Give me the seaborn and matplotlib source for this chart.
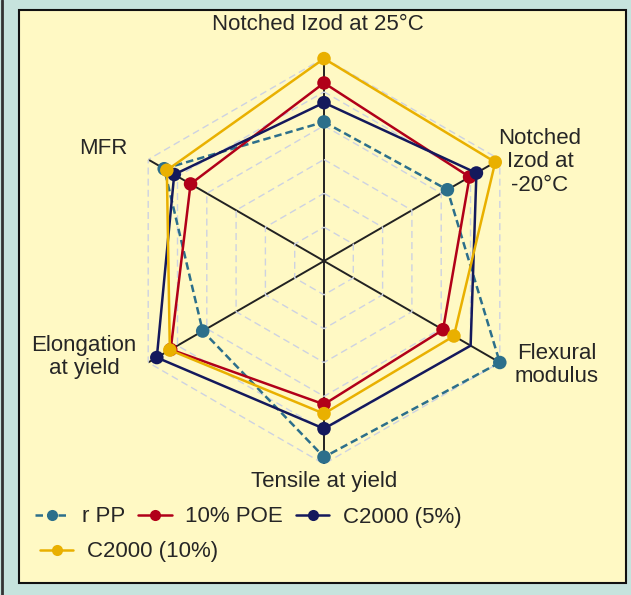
import numpy as np
import pandas as pd
import matplotlib
matplotlib.use("Agg")
import matplotlib.pyplot as plt
from matplotlib.patches import Rectangle
from matplotlib.lines import Line2D
import seaborn as sns

sns.set_style("white")
plt.rcParams['font.family'] = ['Liberation Sans', 'DejaVu Sans']

categories = ["Notched Izod at 25°C", "Notched\nIzod at\n-20°C", "Flexural\nmodulus",
              "Tensile at yield", "Elongation\nat yield", "MFR"]
series_names = ["r PP", "10% POE", "C2000 (5%)", "C2000 (10%)"]
rpp = [0.685, 0.702, 1.000, 0.966, 0.690, 0.909]
poe10 = [0.877, 0.828, 0.677, 0.706, 0.872, 0.759]
c2000_5 = [0.780, 0.867, 0.834, 0.826, 0.951, 0.852]
c2000_10 = [0.997, 0.974, 0.739, 0.752, 0.877, 0.894]
grid_levels = [1/6, 2/6, 3/6, 4/6, 5/6, 1.0]

colors = ["#2c6f8b", "#b10019", "#14195c", "#e9b000"]
styles = [(0, (3, 1.6)), "-", "-", "-"]
values = [rpp, poe10, c2000_5, c2000_10]
# which points carry a marker (the 5% series has none on Flexural modulus)
marker_mask = [[True]*6, [True]*6, [True, True, False, True, True, True], [True]*6]

W, H = 631, 595
fig = plt.figure(figsize=(W/100, H/100), dpi=100)
fig.patch.set_facecolor("#c6e3dd")
fig.add_artist(Rectangle((19/W, 1-583/H), (626-19)/W, (583-10)/H, transform=fig.transFigure,
                         facecolor="#fff9c4", edgecolor="#111111", lw=1.5, zorder=-5))
fig.add_artist(Line2D([1.5/W, 1.5/W], [0, 1], transform=fig.transFigure, color="#333333", lw=2))

cx, cy, R = 324, 261, 203
ax = fig.add_axes([(cx-R)/W, 1-(cy+R)/H, 2*R/W, 2*R/H], projection="polar")
ax.patch.set_visible(False)
ax.set_theta_offset(np.pi/2)
ax.set_theta_direction(-1)

n = len(categories)
angles = np.arange(n) * 2*np.pi/n
ang_closed = np.append(angles, 2*np.pi)

# hexagonal dashed rings
for lv in grid_levels:
    ax.plot(ang_closed, [lv]*(n+1), color="#cdd2e2", lw=1.0, ls=(0, (5, 3)), zorder=1)

ax.set_xticks(angles)
ax.set_xticklabels([])
ax.xaxis.grid(True, color="#222222", lw=1.4, ls="-")
ax.yaxis.grid(False)
ax.set_yticks([])
ax.spines["polar"].set_visible(False)
ax.set_ylim(0, 1)

handles = []
for i, (name, vals) in enumerate(zip(series_names, values)):
    df = pd.DataFrame({"theta": ang_closed, "r": list(vals) + [vals[0]]})
    sns.lineplot(data=df, x="theta", y="r", sort=False, estimator=None, ax=ax,
                 color=colors[i], lw=1.8, linestyle=styles[i], zorder=3+i)
    mdf = pd.DataFrame({"theta": angles, "r": vals})[marker_mask[i]]
    sns.scatterplot(data=mdf, x="theta", y="r", ax=ax, color=colors[i], s=95,
                    edgecolor="none", zorder=3.5+i, clip_on=False)
    handles.append(Line2D([], [], color=colors[i], lw=1.8, linestyle=styles[i],
                          marker="o", markersize=8, markeredgewidth=0, label=name))
ax.set_xlabel("")
ax.set_ylabel("")

fs = 16
def ftext(x, y, s, **kw):
    fig.text(x/W, 1-y/H, s, fontsize=fs, ha="center", va="center", linespacing=1.15, **kw)

ftext(318, 24, categories[0])
ftext(540, 162, categories[1])
ftext(557, 365, categories[2])
ftext(324, 482, categories[3])
ftext(84, 357, categories[4])
ftext(103, 149, categories[5])

leg_kw = dict(frameon=False, fontsize=fs, handlelength=1.5, handletextpad=0.6,
              columnspacing=0.6, borderaxespad=0, borderpad=0)
fig.legend(handles=handles[:3], loc="center left", bbox_to_anchor=(35/W, 1-517/H),
           ncol=3, **leg_kw)
fig.legend(handles=handles[3:], loc="center left", bbox_to_anchor=(40/W, 1-552/H),
           ncol=1, **leg_kw)

fig.savefig("out.png", dpi=100, facecolor=fig.get_facecolor())
